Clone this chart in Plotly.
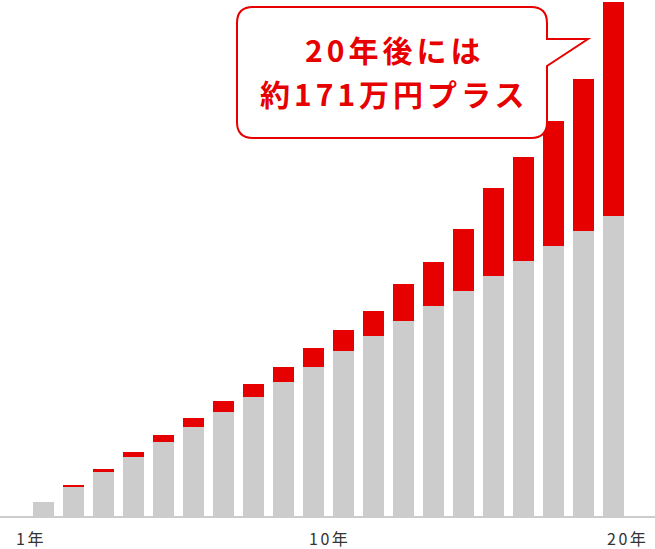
import plotly.graph_objects as go

# data (万円) : contributions per year and the gain on top
years = list(range(1, 21))
principal = [12 * y for y in years]
gain = [0, 0.8, 2.4, 4, 5.6, 7.2, 8.8, 10.4, 12, 14.4,
        17.5, 20, 30, 35, 50, 70, 83, 100, 121, 171]
tick_years = [1, 10, 20]
tick_text = ["1年", "10年", "20年"]
bubble_lines = ["20年後には", "約171万円プラス"]

W, H = 655, 549
PLOT_H = 517  # plot area height in px (bottom margin 32)

GRAY = "#cccccc"
RED = "#e60000"
FONT = "Noto Sans CJK JP"


def paper(x, y):
    # pixel position -> paper coords
    return x / W, 1 - y / PLOT_H


def P(x, y):
    px, py = paper(x, y)
    return f"{px:.5f},{py:.5f}"


fig = go.Figure()
fig.add_trace(go.Bar(x=years, y=principal, marker=dict(color=GRAY, line_width=0),
                     width=0.7, name="元本"))
fig.add_trace(go.Bar(x=years, y=gain, marker=dict(color=RED, line_width=0),
                     width=0.7, name="運用益"))

# speech bubble
left, right, top, bottom, r = 237, 547, 7, 138, 16
path = (f"M {P(left + r, top)} L {P(right - r, top)} Q {P(right, top)} {P(right, top + r)} "
        f"L {P(right, 39)} L {P(588, 39)} L {P(right, 66)} "
        f"L {P(right, bottom - r)} Q {P(right, bottom)} {P(right - r, bottom)} "
        f"L {P(left + r, bottom)} Q {P(left, bottom)} {P(left, bottom - r)} "
        f"L {P(left, top + r)} Q {P(left, top)} {P(left + r, top)} Z")
fig.add_shape(type="path", path=path, xref="paper", yref="paper",
              line=dict(color=RED, width=2), fillcolor="white", layer="above")

annotations = []
for i, line in enumerate(bubble_lines):
    bx, by = paper(394, 49 + 44 * i)
    annotations.append(dict(x=bx, y=by, xref="paper", yref="paper",
                            text='<b><span style="letter-spacing:4px">' + line + "</span></b>",
                            showarrow=False, xanchor="center", yanchor="middle",
                            font=dict(family=FONT, size=30, color=RED)))

# year labels under the axis
shifts = {1: -13, 10: 16, 20: 13.5}
for yv, tt in zip(tick_years, tick_text):
    annotations.append(dict(x=yv, y=0, xref="x", yref="paper",
                            text='<span style="letter-spacing:2.5px">' + tt + "</span>",
                            showarrow=False, xanchor="center", yanchor="middle",
                            xshift=shifts[yv], yshift=-21, height=18, borderpad=0,
                            font=dict(family=FONT, size=16, color="#333333")))

fig.update_layout(
    barmode="stack",
    width=W, height=H,
    margin=dict(l=0, r=0, t=0, b=H - PLOT_H),
    plot_bgcolor="white", paper_bgcolor="white",
    showlegend=False,
    annotations=annotations,
)
fig.update_xaxes(range=[1 - 43.5 / 30, 1 + (W - 43.5) / 30], showgrid=False, zeroline=False,
                 showticklabels=False, ticks="", showline=False, fixedrange=True)
fig.update_yaxes(range=[0, PLOT_H / 1.254], showgrid=False, zeroline=True, zerolinecolor=GRAY,
                 zerolinewidth=2, showticklabels=False, ticks="", fixedrange=True)

fig.write_html("out.html", config={"displayModeBar": False},
               post_script="document.body.style.margin='0';")
